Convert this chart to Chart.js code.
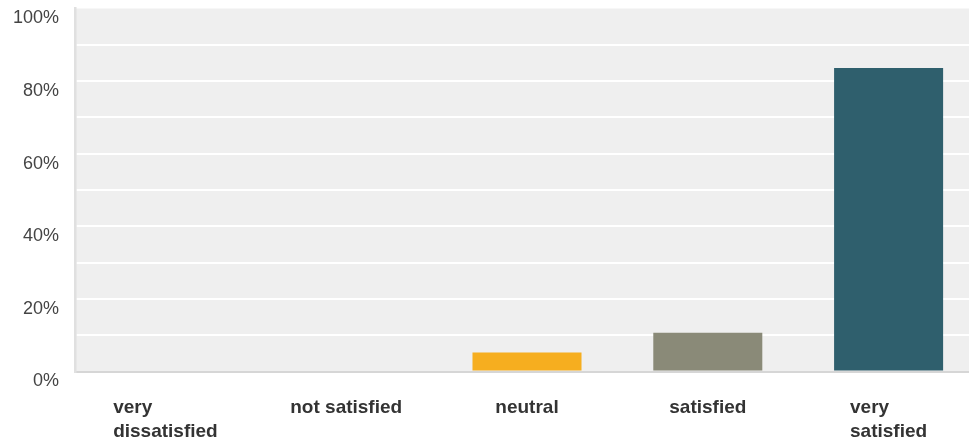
<!DOCTYPE html>
<html>
<head>
<meta charset="utf-8">
<style>
  html, body { margin: 0; padding: 0; background: #fff; overflow: hidden; }
  #wrap { width: 969px; height: 443px; overflow: hidden; }
</style>
</head>
<body>
<div id="wrap"><canvas id="chart" width="979" height="443"></canvas></div>
<script src="https://cdn.jsdelivr.net/npm/chart.js@4/dist/chart.umd.min.js"></script>
<script>
// answer categories (multi-line labels as arrays)
const categories = [["very", "dissatisfied"], ["not satisfied"], ["neutral"], ["satisfied"], ["very", "satisfied"]];
// share of responses, %
const shares     = [0, 0, 5.2, 10.7, 83.6];
const barColors  = ["#c0504d", "#e07b39", "#f6ae1f", "#8a8a78", "#2f5f6d"];
const yTicks     = [0, 20, 40, 60, 80, 100];

const FONT = "'Liberation Sans', Arial, Helvetica, sans-serif";

// grey plot background
const plotBg = {
  id: "plotBg",
  beforeDraw(chart) {
    const { ctx, chartArea: a } = chart;
    ctx.save();
    ctx.fillStyle = "#efefef";
    ctx.fillRect(a.left, a.top, a.right - a.left, a.bottom - a.top);
    ctx.restore();
  },
};

// x labels: block centred under the bar, lines left-aligned inside it
const xLabels = {
  id: "xLabels",
  afterDraw(chart) {
    const { ctx } = chart;
    const x = chart.scales.x;
    ctx.save();
    ctx.font = "bold 19px " + FONT;
    ctx.fillStyle = "#333";
    ctx.textAlign = "left";
    ctx.textBaseline = "middle";
    categories.forEach((lines, i) => {
      const cx = x.getPixelForTick(i);
      const w = Math.max(...lines.map(l => ctx.measureText(l).width));
      lines.forEach((l, j) => ctx.fillText(l, cx - w / 2, 408 + j * 24));
    });
    ctx.restore();
  },
};

new Chart(document.getElementById("chart"), {
  type: "bar",
  data: {
    labels: categories,
    datasets: [{
      data: shares,
      backgroundColor: barColors,
      borderWidth: 0,
      barPercentage: 0.603,
      categoryPercentage: 1.0,
    }],
  },
  options: {
    responsive: false,
    animation: false,
    devicePixelRatio: 1,
    layout: { padding: { top: 8.5, left: 0, right: 0, bottom: 0 } },
    plugins: { legend: { display: false }, tooltip: { enabled: false } },
    scales: {
      x: {
        grid: { display: false },
        border: { color: "#d6d6d6", width: 2 },
        ticks: { display: false },
        afterFit(s) { s.height = 71.5; s.paddingLeft = 0; s.paddingRight = 0; },
      },
      y: {
        min: 0,
        max: 100,
        grid: {
          drawTicks: false,
          lineWidth: 2,
          color: c => (c.tick && c.tick.value === 100 ? "rgba(0,0,0,0)" : "#ffffff"),
        },
        border: { color: "#e0e0e0", width: 2.5 },
        ticks: {
          stepSize: 10,
          padding: 16,
          labelOffset: 10,
          color: "#444",
          font: { family: FONT, size: 18 },
          callback: v => (yTicks.includes(v) ? v + "%" : ""),
        },
        afterFit(s) { s.width = 75; s.paddingTop = 0; s.paddingBottom = 0; },
      },
    },
  },
  plugins: [plotBg, xLabels],
});
</script>
</body>
</html>
